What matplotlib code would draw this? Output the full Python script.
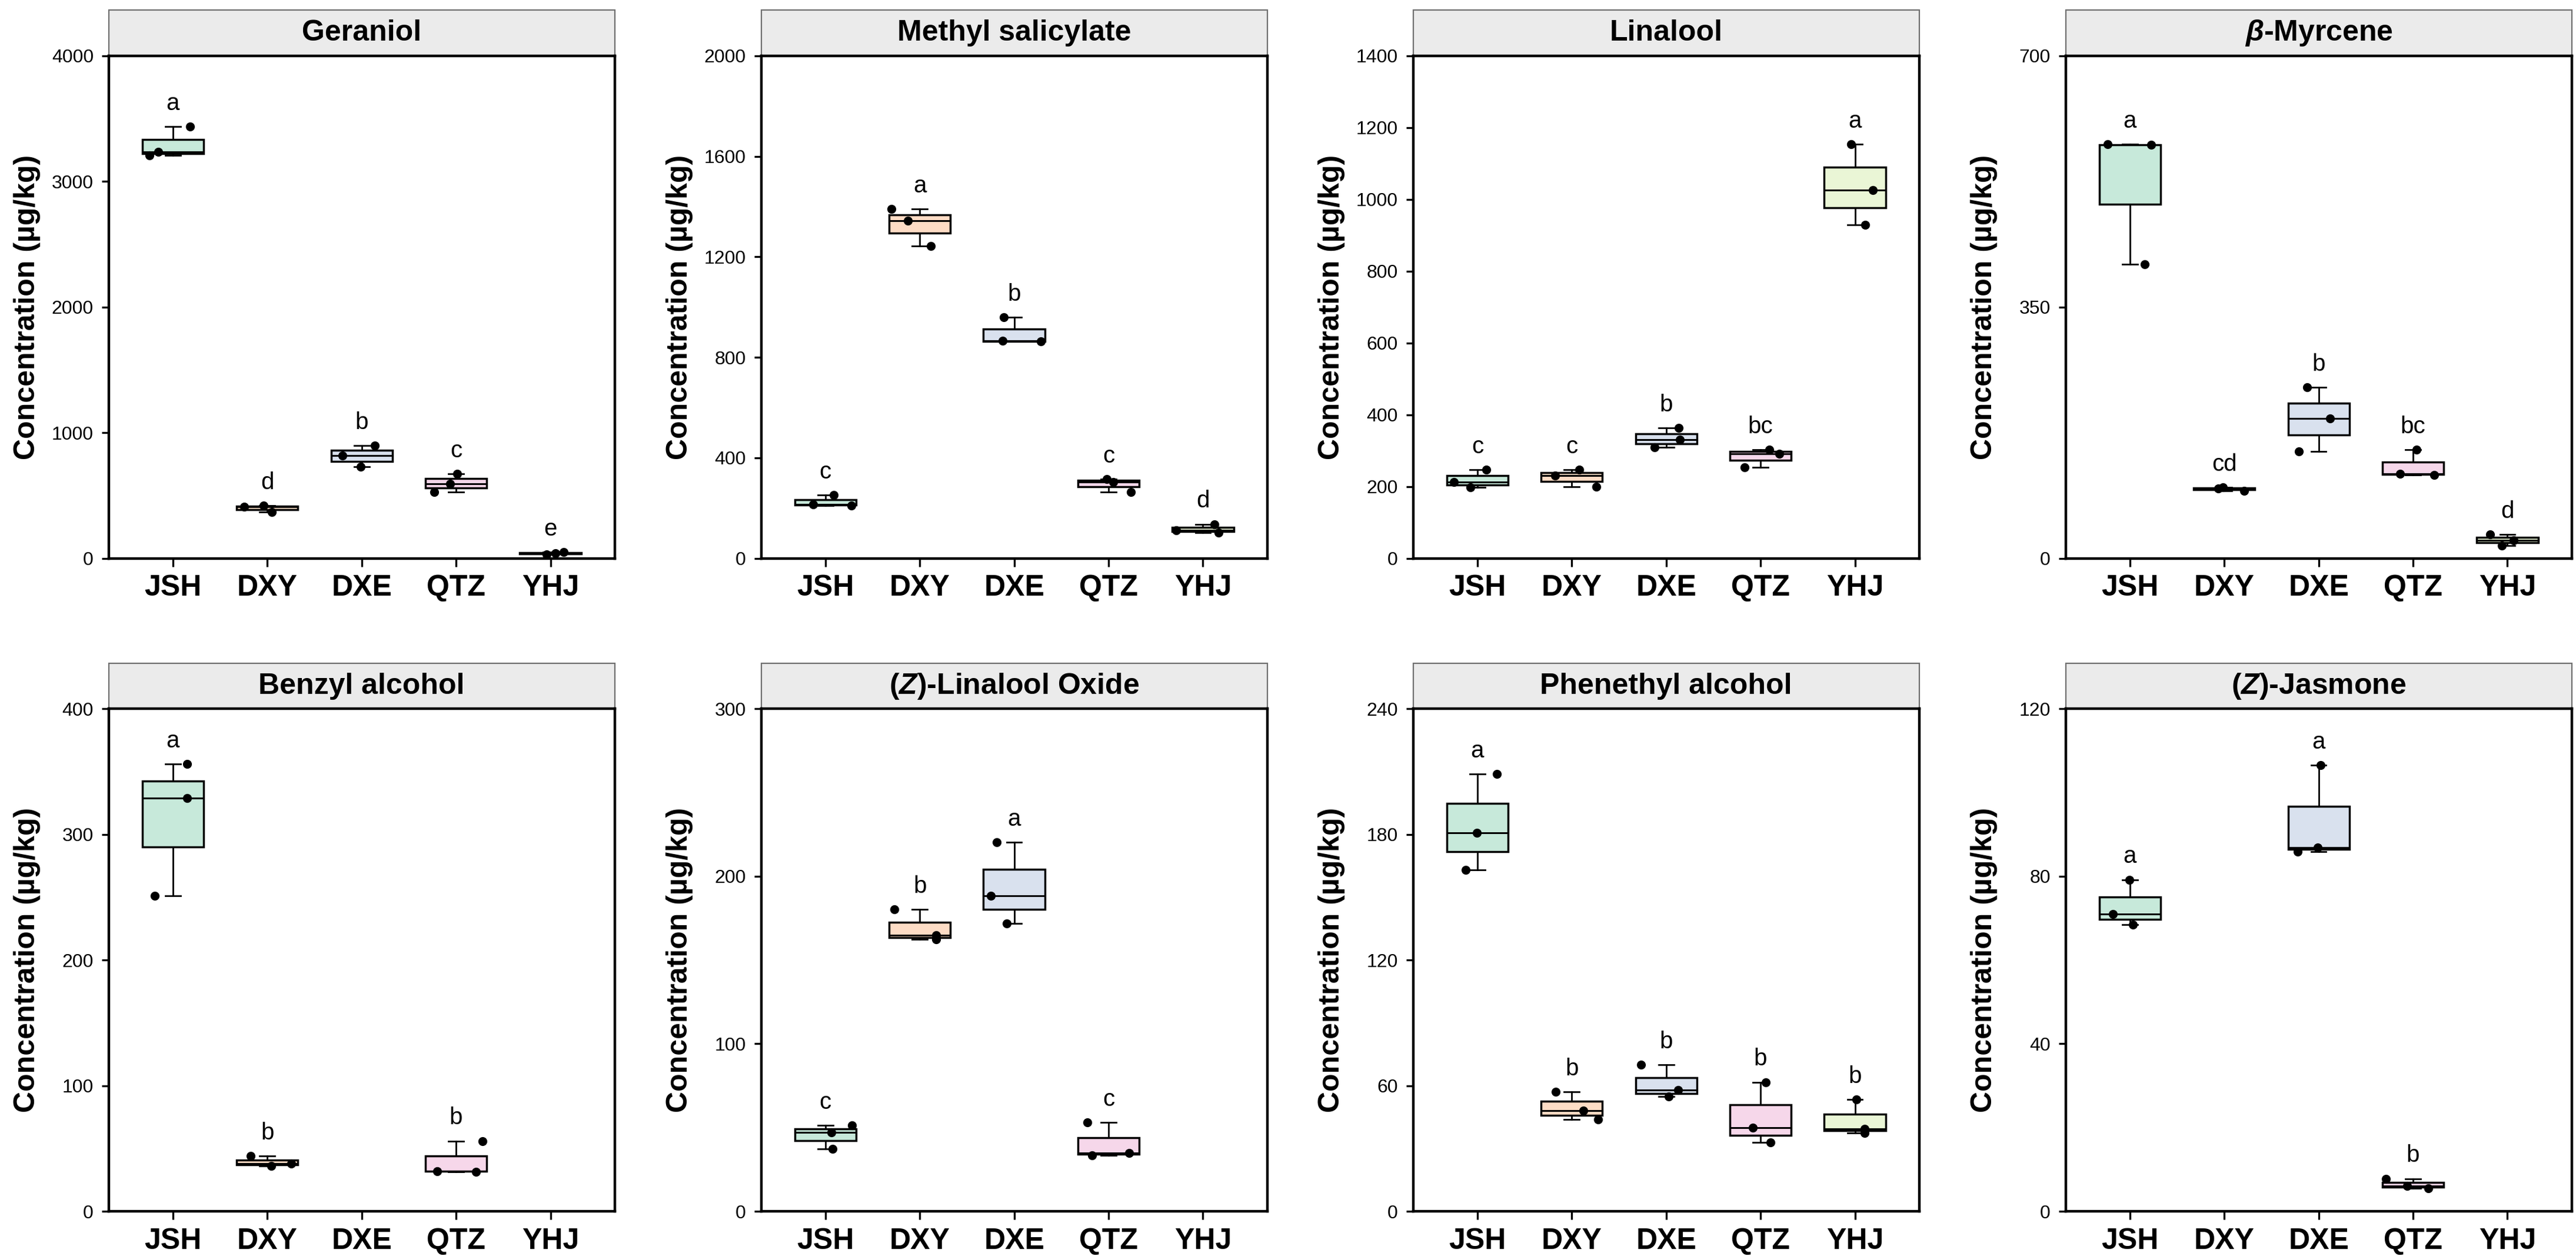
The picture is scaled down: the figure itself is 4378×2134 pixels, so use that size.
import numpy as np
import matplotlib.pyplot as plt
from matplotlib.patches import Rectangle

# fonts: Arial-like sans, bold italic for the Greek / Z prefixes
plt.rcParams['font.family'] = ['Liberation Sans', 'DejaVu Sans']
plt.rcParams['mathtext.fontset'] = 'custom'
plt.rcParams['mathtext.rm'] = 'Liberation Sans:bold'
plt.rcParams['mathtext.it'] = 'Liberation Sans:bold:italic'
plt.rcParams['mathtext.bf'] = 'Liberation Sans:bold'

# tea groups on the x axis
groups = ['JSH', 'DXY', 'DXE', 'QTZ', 'YHJ']
group_colors = ['#C7E9DA', '#FDDCC5', '#D9E1EE', '#F6D7EA', '#EAF6D6']

# three replicates per group (ug/kg); empty = not detected
geraniol = [[3208, 3235, 3436], [368, 410, 420], [728, 818, 899], [527, 593, 674], [30, 38, 48]]
methyl_salicylate = [[210, 215, 252], [1243, 1345, 1390], [863, 866, 959], [264, 304, 316], [102, 112, 136]]
linalool = [[197, 213, 247], [199, 230, 247], [309, 330, 363], [254, 292, 302], [929, 1026, 1154]]
myrcene = [[410, 576, 577], [94, 97, 99], [149, 195, 238], [116, 118, 151], [18, 25, 33]]
benzyl_alcohol = [[251, 329, 356], [36, 38, 44], [], [31.5, 32, 56], []]
linalool_oxide = [[37.2, 47, 51.3], [162.3, 164.7, 180.3], [172, 188.3, 220.4], [33.3, 34.8, 53], []]
phenethyl_alcohol = [[163, 180.7, 208.9], [43.8, 48.1, 57], [54.9, 57.8, 70.1], [32.9, 39.9, 61.7], [37.5, 39.5, 53.5]]
jasmone = [[68.5, 71, 79.2], [], [85.9, 86.9, 106.5], [5.5, 6.1, 7.8], []]

# significance letters
geraniol_letters = ['a', 'd', 'b', 'c', 'e']
methyl_salicylate_letters = ['c', 'a', 'b', 'c', 'd']
linalool_letters = ['c', 'c', 'b', 'bc', 'a']
myrcene_letters = ['a', 'cd', 'b', 'bc', 'd']
benzyl_alcohol_letters = ['a', 'b', '', 'b', '']
linalool_oxide_letters = ['c', 'b', 'a', 'c', '']
phenethyl_alcohol_letters = ['a', 'b', 'b', 'b', 'b']
jasmone_letters = ['a', '', 'a', 'b', '']

# y ticks per panel
geraniol_ticks = [0, 1000, 2000, 3000, 4000]
methyl_salicylate_ticks = [0, 400, 800, 1200, 1600, 2000]
linalool_ticks = [0, 200, 400, 600, 800, 1000, 1200, 1400]
myrcene_ticks = [0, 350, 700]
benzyl_alcohol_ticks = [0, 100, 200, 300, 400]
linalool_oxide_ticks = [0, 100, 200, 300]
phenethyl_alcohol_ticks = [0, 60, 120, 180, 240]
jasmone_ticks = [0, 40, 80, 120]

titles = ['Geraniol', 'Methyl salicylate', 'Linalool', r'$\mathit{\beta}$-Myrcene',
          'Benzyl alcohol', r'($\mathit{Z}$)-Linalool Oxide', 'Phenethyl alcohol', r'($\mathit{Z}$)-Jasmone']
values = [geraniol, methyl_salicylate, linalool, myrcene,
          benzyl_alcohol, linalool_oxide, phenethyl_alcohol, jasmone]
letters = [geraniol_letters, methyl_salicylate_letters, linalool_letters, myrcene_letters,
           benzyl_alcohol_letters, linalool_oxide_letters, phenethyl_alcohol_letters, jasmone_letters]
ticks = [geraniol_ticks, methyl_salicylate_ticks, linalool_ticks, myrcene_ticks,
         benzyl_alcohol_ticks, linalool_oxide_ticks, phenethyl_alcohol_ticks, jasmone_ticks]

fig = plt.figure(figsize=(21.89, 10.67), dpi=200)
lefts = [0.0422, 0.2955, 0.5486, 0.8019]
bottoms = [0.5555, 0.0356]
W, H = 0.1964, 0.40
strip_h = 0.091

# horizontal jitter of the replicate points
rng = np.random.default_rng(3)

for i in range(8):
    ax = fig.add_axes([lefts[i % 4], bottoms[i // 4], W, H])
    vals = values[i]
    pos = [k + 1 for k, v in enumerate(vals) if len(v)]
    data = [v for v in vals if len(v)]
    cols = [group_colors[k] for k, v in enumerate(vals) if len(v)]

    bp = ax.boxplot(data, positions=pos, widths=0.65, patch_artist=True,
                    whis=(0, 100), showfliers=False, capwidths=0.16,
                    boxprops=dict(edgecolor='black', linewidth=1.25),
                    medianprops=dict(color='black', linewidth=1.1),
                    whiskerprops=dict(color='black', linewidth=1.0),
                    capprops=dict(color='black', linewidth=1.0))
    for patch, c in zip(bp['boxes'], cols):
        patch.set_facecolor(c)

    for p, v in zip(pos, data):
        xj = p + rng.uniform(-0.3, 0.3, len(v))
        ax.scatter(xj, v, s=30, color='black', zorder=3, linewidths=0)

    ymax = ticks[i][-1]
    for k, lab in enumerate(letters[i]):
        if lab:
            ax.text(k + 1, max(vals[k]) + 0.033 * ymax, lab, ha='center',
                    va='baseline', fontsize=14.5)

    ax.set_xlim(0.32, 5.68)
    ax.set_ylim(0, ymax)
    ax.set_yticks(ticks[i])
    ax.set_xticks(range(1, 6))
    ax.set_xticklabels(groups, fontsize=18, fontweight='bold')
    ax.tick_params(axis='y', labelsize=11.5, length=4.3, width=1.2, pad=5)
    ax.tick_params(axis='x', length=5, width=1.2, pad=5)
    for s in ax.spines.values():
        s.set_linewidth(1.6)

    ax.set_ylabel('Concentration (µg/kg)', fontsize=18, fontweight='bold')
    ax.yaxis.set_label_coords(-0.135, 0.5)

    # facet strip
    ax.add_patch(Rectangle((0, 1), 1, strip_h, transform=ax.transAxes,
                           facecolor='#EBEBEB', edgecolor='#6F6F6F',
                           linewidth=0.8, clip_on=False))
    ax.text(0.5, 1 + strip_h / 2, titles[i], transform=ax.transAxes,
            ha='center', va='center', fontsize=18, fontweight='bold')

fig.savefig('out.png', dpi=200)
